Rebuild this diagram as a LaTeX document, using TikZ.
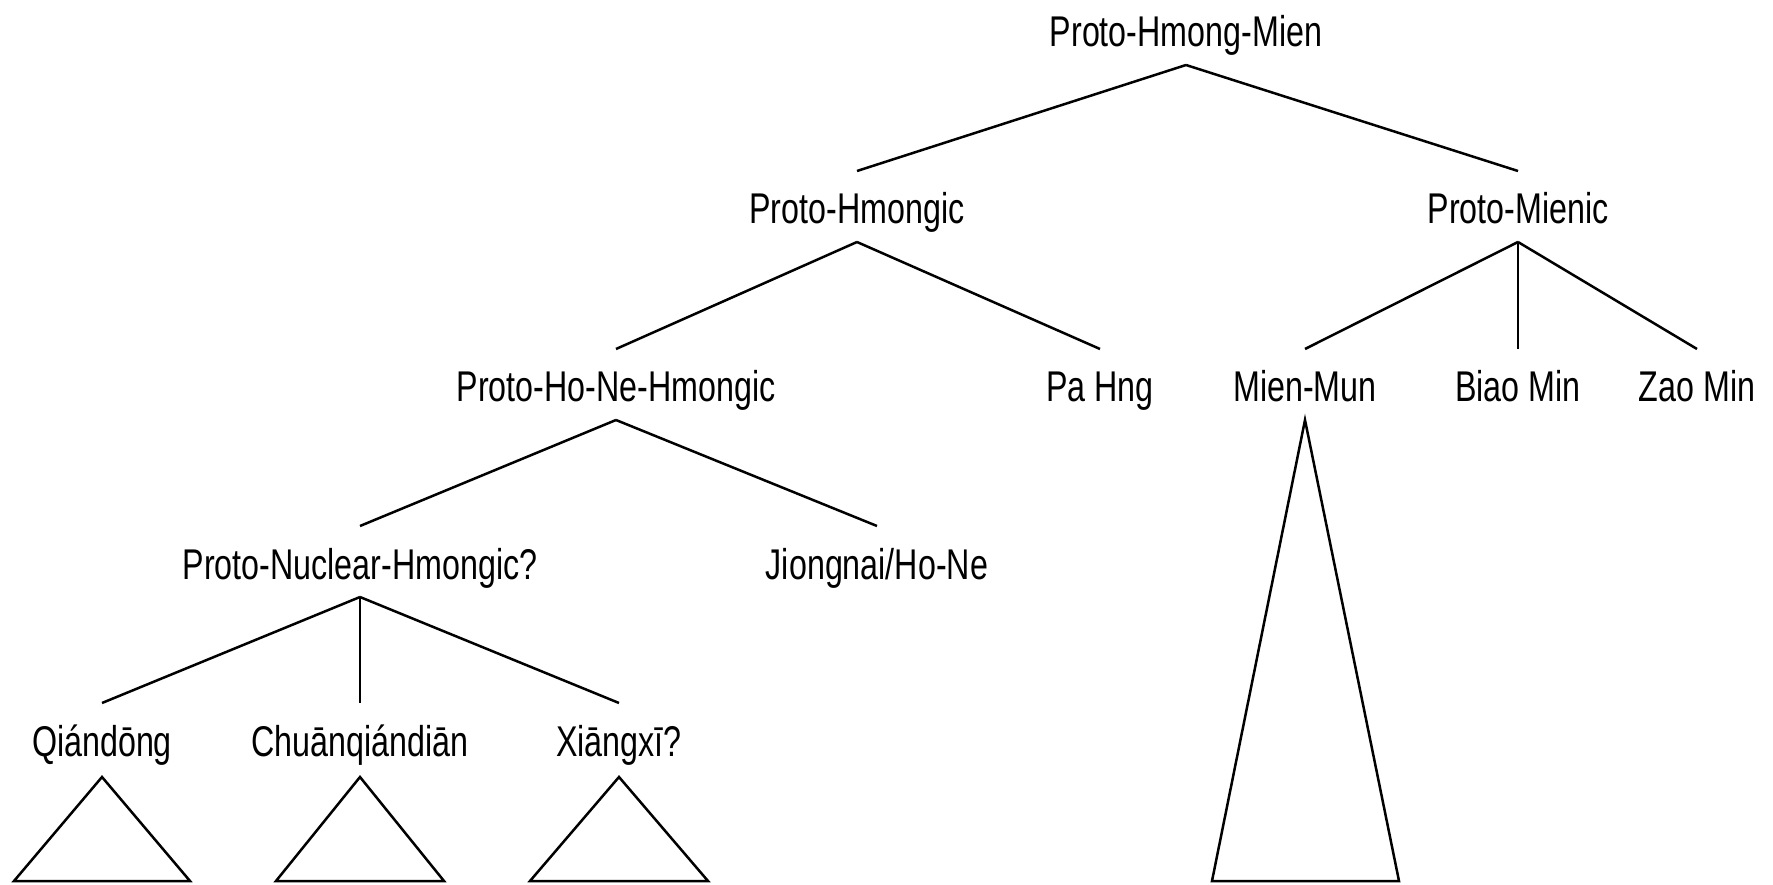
\documentclass[tikz,border=0pt]{standalone}
\usepackage{fontspec}
\setmainfont{Liberation Sans}[FakeStretch=0.75]
\begin{document}
\begin{tikzpicture}[x=1pt,y=-1pt,
  lbl/.style={anchor=base,inner sep=0pt,font=\fontsize{43}{47}\selectfont},
  br/.style={line width=2.5pt,line join=miter},
  tri/.style={line width=2.5pt,line join=miter}]
\useasboundingbox (0,0) rectangle (1773,885);
% nodes (base positions)
\node[lbl] (phm) at (1186,47) {Proto-Hmong-Mien};
\node[lbl] (phg) at (857,224) {Proto-Hmongic};
\node[lbl] (pmi) at (1518,224) {Proto-Mienic};
\node[lbl] (phnh) at (616,402) {Proto-Ho-Ne-Hmongic};
\node[lbl] (pahng) at (1100,402) {Pa Hng};
\node[lbl] (mm) at (1305,402) {Mien-Mun};
\node[lbl] (biao) at (1518,402) {Biao Min};
\node[lbl] (zao) at (1697,402) {Zao Min};
\node[lbl] (pnh) at (360,579) {Proto-Nuclear-Hmongic?};
\node[lbl] (jn) at (877,579) {Jiongnai/Ho-Ne};
\node[lbl] (qd) at (102,756) {Qiándōng};
\node[lbl] (cq) at (360,756) {Chuānqiándiān};
\node[lbl] (xx) at (619,756) {Xiāngxī?};
% branches
\foreach \p/\c in {phm/phg,phm/pmi,phg/phnh,phg/pahng,pmi/mm,pmi/biao,pmi/zao,phnh/pnh,phnh/jn,pnh/qd,pnh/cq,pnh/xx}
  \draw[br] ([yshift=-18pt]\p.base) -- ([yshift=53pt]\c.base);
% subgroup triangles
\draw[tri] ([yshift=-21pt]qd.base) -- ([xshift=-88pt,yshift=-125pt]qd.base) -- ([xshift=88pt,yshift=-125pt]qd.base) -- cycle;
\draw[tri] ([yshift=-21pt]cq.base) -- ([xshift=-84pt,yshift=-125pt]cq.base) -- ([xshift=84pt,yshift=-125pt]cq.base) -- cycle;
\draw[tri] ([yshift=-21pt]xx.base) -- ([xshift=-89pt,yshift=-125pt]xx.base) -- ([xshift=89pt,yshift=-125pt]xx.base) -- cycle;
\draw[tri] ([yshift=-18pt]mm.base) -- ([xshift=-93pt,yshift=-479pt]mm.base) -- ([xshift=94pt,yshift=-479pt]mm.base) -- cycle;
\end{tikzpicture}
\end{document}
